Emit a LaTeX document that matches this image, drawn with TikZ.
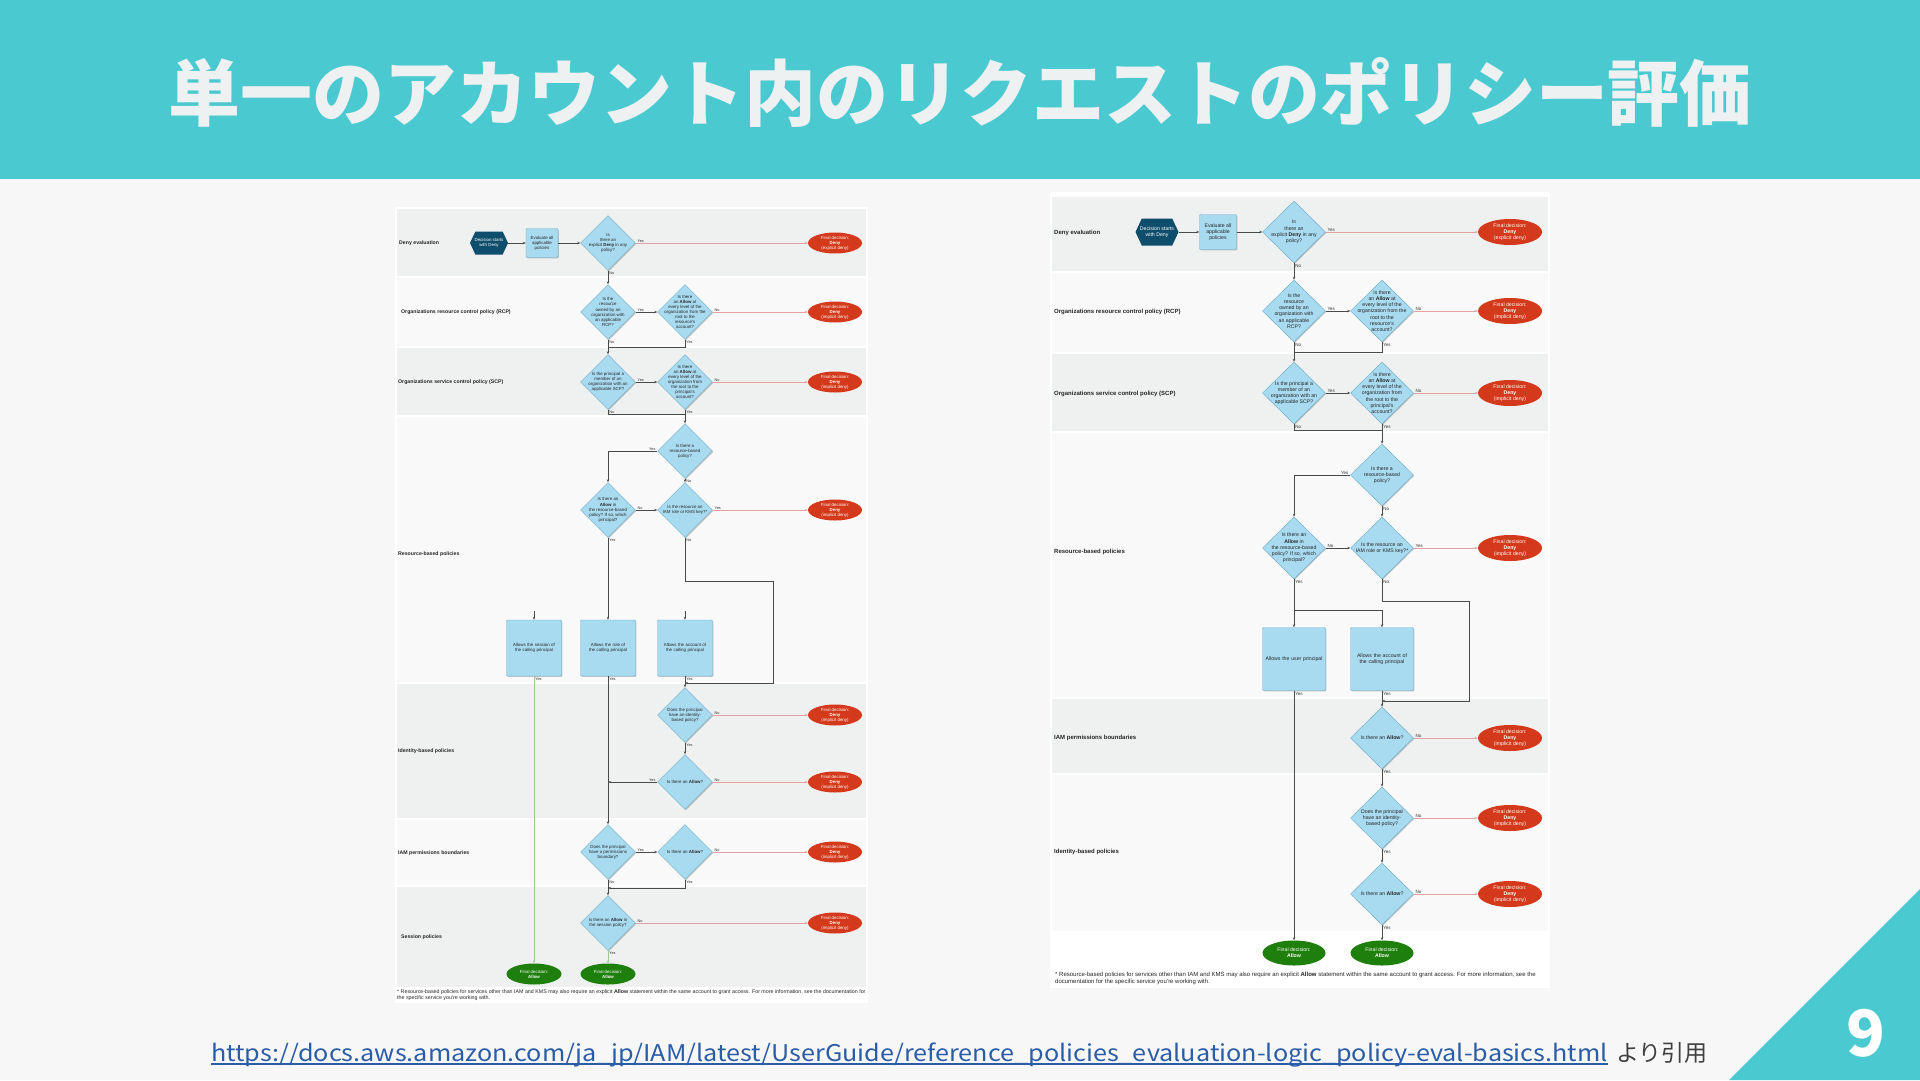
\documentclass[tikz,border=0pt]{standalone}
\usepackage{fontspec}
\setmainfont{Liberation Sans}
\newfontfamily\cjk{Noto Sans CJK JP}
\usetikzlibrary{shapes.geometric,shapes.symbols,arrows.meta,shadows}
\definecolor{hdrteal}{HTML}{4BC9D1}
\definecolor{pagebg}{HTML}{F7F7F7}
\definecolor{laneA}{HTML}{EFF0F0}
\definecolor{laneB}{HTML}{F9F9F9}
\definecolor{diafill}{HTML}{A8DBF0}
\definecolor{diaborder}{HTML}{6FAFCB}
\definecolor{denyred}{HTML}{D3391A}
\definecolor{allowgreen}{HTML}{1E7F0C}
\definecolor{navy}{HTML}{0E4D6B}
\definecolor{flowgrey}{HTML}{4A4A4A}
\definecolor{denyline}{HTML}{E3A2A2}
\definecolor{allowline}{HTML}{9BCB8F}
\definecolor{linkblue}{HTML}{2A5CA8}
\definecolor{titlecol}{HTML}{EEF1F1}
\tikzset{
 shd/.style={drop shadow={opacity=0.22, shadow xshift=0.8pt, shadow yshift=-0.8pt, fill=black}},
 diabase/.style={diamond, draw=diaborder, fill=diafill, line width=0.45pt, inner sep=0pt, shd},
 diaL/.style={diabase, minimum width=55pt, minimum height=55pt},
 diaR/.style={diabase, minimum width=63pt, minimum height=62pt},
 boxbase/.style={rectangle, rounded corners=1pt, draw=diaborder, fill=diafill, line width=0.45pt, inner sep=0pt, shd},
 boxL/.style={boxbase, minimum width=55pt, minimum height=56pt},
 boxR/.style={boxbase, minimum width=63pt, minimum height=63pt},
 evL/.style={boxbase, minimum width=32pt, minimum height=29pt},
 evR/.style={boxbase, minimum width=37pt, minimum height=35pt},
 ovbase/.style={ellipse, inner sep=0pt, draw=none},
 denyL/.style={ovbase, fill=denyred, minimum width=54pt, minimum height=21pt},
 denyR/.style={ovbase, fill=denyred, minimum width=64pt, minimum height=26pt},
 allowL/.style={ovbase, fill=allowgreen, minimum width=55pt, minimum height=21pt},
 allowR/.style={ovbase, fill=allowgreen, minimum width=63pt, minimum height=25pt},
 hexbase/.style={signal, signal to=east and west, signal pointer angle=130, fill=navy, inner sep=0pt, draw=none},
 hexL/.style={hexbase, minimum width=38pt, minimum height=23pt},
 hexR/.style={hexbase, minimum width=43pt, minimum height=27pt},
 tL/.style={align=center, inner sep=0pt, text=black!85, font=\fontsize{4.4}{5.1}\selectfont},
 tR/.style={align=center, inner sep=0pt, text=black!85, font=\fontsize{5.2}{6.2}\selectfont},
 wL/.style={tL, text=white},
 wR/.style={tR, text=white},
 laneL/.style={anchor=west, inner sep=0pt, font=\bfseries\fontsize{5.2}{6}\selectfont, text=black!85},
 laneR/.style={anchor=west, inner sep=0pt, font=\bfseries\fontsize{6}{7}\selectfont, text=black!85},
 arrowtip/.style={-{Stealth[length=3pt,width=2.4pt]}},
 flow/.style={draw=flowgrey, line width=0.55pt, arrowtip},
 seg/.style={draw=flowgrey, line width=0.55pt},
 dflow/.style={draw=denyline, line width=0.5pt, arrowtip},
 aflow/.style={draw=allowline, line width=0.5pt, arrowtip},
 ynL/.style={inner sep=0.6pt, font=\fontsize{3.8}{3.8}\selectfont, text=black!80},
 ynR/.style={inner sep=0.6pt, font=\fontsize{4.5}{4.5}\selectfont, text=black!80},
 yE/.style={pos=0, anchor=south west, xshift=1pt},
 yS/.style={pos=0, anchor=north west, xshift=0.5pt, yshift=-0.5pt},
 yW/.style={pos=0, anchor=south east, xshift=-1pt},
 fn/.style={anchor=west, inner sep=0pt, text=black!85},
}
\begin{document}
\begin{tikzpicture}[x=1pt,y=-1pt]
\useasboundingbox (0,0) rectangle (1920,1080);
\fill[pagebg] (0,0) rectangle (1920,1080);
\fill[hdrteal] (0,0) rectangle (1920,179);
\node[font=\cjk\bfseries\fontsize{72}{78}\selectfont, text=titlecol, inner sep=0pt] (title) at (960,92) {単一のアカウント内のリクエストのポリシー評価};
\fill[hdrteal] (1729,1080) -- (1920,889) -- (1920,1080) -- cycle;
\node[font=\cjk\bfseries\fontsize{64}{64}\selectfont, text=white, inner sep=0pt] (pnum) at (1866,1033) {9};
\node[font=\cjk\fontsize{23}{25}\selectfont, text=linkblue, anchor=base west, inner sep=0pt] (link) at (211,1061) {\scalebox{1.095}[1]{https://docs.aws.amazon.com/ja\_jp/IAM/latest/UserGuide/reference\_policies\_evaluation-logic\_policy-eval-basics.html}};
\draw[linkblue, line width=1.3pt] ([yshift=-3pt]link.base west) -- ([yshift=-3pt]link.base east);
\node[font=\cjk\fontsize{23}{25}\selectfont, text=black!75, anchor=base west, inner sep=0pt] (cite) at ([xshift=8pt]link.base east) {より引用};

% ================= LEFT DIAGRAM =================
\fill[white] (395,207) rectangle (868,1003);
\fill[laneA] (397,209) rectangle (866,276);
\fill[laneB] (397,278) rectangle (866,346);
\fill[laneA] (397,348) rectangle (866,415);
\fill[laneB] (397,417) rectangle (866,682);
\fill[laneA] (397,684) rectangle (866,818);
\fill[laneB] (397,820) rectangle (866,885);
\fill[laneA] (397,887) rectangle (866,987);
\node[laneL] (Ll1) at (399,243) {Deny evaluation};
\node[laneL] (Ll2) at (401,312) {Organizations resource control policy (RCP)};
\node[laneL] (Ll3) at (398,382) {Organizations service control policy (SCP)};
\node[laneL] (Ll4) at (398,554) {Resource-based policies};
\node[laneL] (Ll5) at (398,751) {Identity-based policies};
\node[laneL] (Ll6) at (398,853) {IAM permissions boundaries};
\node[laneL] (Ll7) at (401,937) {Session policies};

\node[hexL] (Lhex) at (489,243) {}; \node[wL] (Lhext) at (Lhex) {Decision starts\\with Deny};
\node[evL] (Lev) at (542,243) {}; \node[tL] (Levt) at (Lev) {Evaluate all\\applicable\\policies};
\node[diaL] (LD1) at (608,243) {}; \node[tL] (LD1t) at (LD1) {Is\\there an\\explicit \textbf{Deny} in any\\policy?};
\node[denyL] (LO1) at (835,243) {}; \node[wL] (LO1t) at (LO1) {Final decision:\\\textbf{Deny}\\(explicit deny)};
\node[diaL] (LD2) at (608,312) {}; \node[tL] (LD2t) at (LD2) {Is the\\resource\\owned by an\\organization with\\an applicable\\RCP?};
\node[diaL] (LD3) at (685,312) {}; \node[tL] (LD3t) at (LD3) {Is there\\an \textbf{Allow} at\\every level of the\\organization from the\\root to the\\resource's\\account?};
\node[denyL] (LO2) at (835,312) {}; \node[wL] (LO2t) at (LO2) {Final decision:\\\textbf{Deny}\\(implicit deny)};
\node[diaL] (LD4) at (608,382) {}; \node[tL] (LD4t) at (LD4) {Is the principal a\\member of an\\organization with an\\applicable SCP?};
\node[diaL] (LD5) at (685,382) {}; \node[tL] (LD5t) at (LD5) {Is there\\an \textbf{Allow} at\\every level of the\\organization from\\the root to the\\principal's\\account?};
\node[denyL] (LO3) at (835,382) {}; \node[wL] (LO3t) at (LO3) {Final decision:\\\textbf{Deny}\\(implicit deny)};
\node[diaL] (LD6) at (685,451) {}; \node[tL] (LD6t) at (LD6) {Is there a\\resource-based\\policy?};
\node[diaL] (LD7) at (608,510) {}; \node[tL] (LD7t) at (LD7) {Is there an\\\textbf{Allow} in\\the resource-based\\policy? If so, which\\principal?};
\node[diaL] (LD8) at (685,510) {}; \node[tL] (LD8t) at (LD8) {Is the resource an\\IAM role or KMS key?*};
\node[denyL] (LO4) at (835,510) {}; \node[wL] (LO4t) at (LO4) {Final decision:\\\textbf{Deny}\\(implicit deny)};
\node[boxL] (LB1) at (534,648) {}; \node[tL, text width=51pt] (LB1t) at (LB1) {Allows the session of the calling principal};
\node[boxL] (LB2) at (608,648) {}; \node[tL, text width=51pt] (LB2t) at (LB2) {Allows the role of the calling principal};
\node[boxL] (LB3) at (685,648) {}; \node[tL, text width=51pt] (LB3t) at (LB3) {Allows the account of the calling principal};
\node[diaL] (LD9) at (685,715) {}; \node[tL] (LD9t) at (LD9) {Does the principal\\have an identity-\\based policy?};
\node[denyL] (LO5) at (835,715) {}; \node[wL] (LO5t) at (LO5) {Final decision:\\\textbf{Deny}\\(implicit deny)};
\node[diaL] (LD10) at (685,782) {}; \node[tL] (LD10t) at (LD10) {Is there an \textbf{Allow}?};
\node[denyL] (LO6) at (835,782) {}; \node[wL] (LO6t) at (LO6) {Final decision:\\\textbf{Deny}\\(implicit deny)};
\node[diaL] (LD11) at (608,852) {}; \node[tL] (LD11t) at (LD11) {Does the principal\\have a permissions\\boundary?};
\node[diaL] (LD12) at (685,852) {}; \node[tL] (LD12t) at (LD12) {Is there an \textbf{Allow}?};
\node[denyL] (LO7) at (835,852) {}; \node[wL] (LO7t) at (LO7) {Final decision:\\\textbf{Deny}\\(implicit deny)};
\node[diaL] (LD13) at (608,923) {}; \node[tL] (LD13t) at (LD13) {Is there an \textbf{Allow} in\\the session policy?};
\node[denyL] (LO8) at (835,923) {}; \node[wL] (LO8t) at (LO8) {Final decision:\\\textbf{Deny}\\(implicit deny)};
\node[allowL] (LA1) at (534,974) {}; \node[wL] (LA1t) at (LA1) {Final decision:\\\textbf{Allow}};
\node[allowL] (LA2) at (608,974) {}; \node[wL] (LA2t) at (LA2) {Final decision:\\\textbf{Allow}};

\coordinate (LJ1) at (608,347);
\coordinate (LJ2) at (685,414);
\coordinate (LK1) at (773,581);
\coordinate (LK2) at (685,683);
\coordinate (LS1) at (534,611);
\coordinate (LS3) at (685,611);
\coordinate (LJ3) at (608,888);
\draw[flow] (Lhex) -- (Lev);
\draw[flow] (Lev) -- (LD1);
\draw[dflow] (LD1.east) -- (LO1.west) node[ynL,yE] (Ln1) {Yes};
\draw[flow] (LD1.south) -- (LD2.north) node[ynL,yS] (Ln2) {No};
\draw[flow] (LD2.east) -- (LD3.west) node[ynL,yE] (Ln3) {Yes};
\draw[dflow] (LD3.east) -- (LO2.west) node[ynL,yE] (Ln4) {No};
\draw[seg] (LD3.south) node[ynL,anchor=north west,xshift=0.5pt] (Ln5) {Yes} |- (LJ1);
\draw[flow] (LD2.south) -- (LD4.north) node[ynL,yS] (Ln6) {No};
\draw[flow] (LD4.east) -- (LD5.west) node[ynL,yE] (Ln7) {Yes};
\draw[dflow] (LD5.east) -- (LO3.west) node[ynL,yE] (Ln8) {No};
\draw[seg] (LD4.south) node[ynL,anchor=north west,xshift=0.5pt] (Ln9) {No} |- (LJ2);
\draw[flow] (LD5.south) -- (LD6.north) node[ynL,yS] (Ln10) {Yes};
\draw[flow] (LD6.west) -| (LD7.north) node[ynL,yW] (Ln11) {Yes};
\draw[flow] (LD6.south) -- (LD8.north) node[ynL,yS] (Ln12) {No};
\draw[flow] (LD7.east) -- (LD8.west) node[ynL,yE] (Ln13) {No};
\draw[dflow] (LD8.east) -- (LO4.west) node[ynL,yE] (Ln14) {Yes};
\draw[flow] (LD8.south) node[ynL,anchor=north west,xshift=0.5pt] (Ln15) {No} |- (LK1) |- (LK2);
\draw[flow] (LD7.south) -- (LB2.north) node[ynL,yS] (Ln16) {Yes};
\draw[flow] (LS1) -- (LB1.north);
\draw[flow] (LS3) -- (LB3.north);
\draw[aflow] (LB1.south) -- (LA1.north) node[ynL,yS] (Ln17) {Yes};
\draw[flow] (LB2.south) -- (LD11.north) node[ynL,yS] (Ln18) {Yes};
\draw[flow] (LB3.south) -- (LD9.north) node[ynL,yS] (Ln19) {Yes};
\draw[dflow] (LD9.east) -- (LO5.west) node[ynL,yE] (Ln20) {No};
\draw[flow] (LD9.south) -- (LD10.north) node[ynL,yS] (Ln21) {Yes};
\draw[dflow] (LD10.east) -- (LO6.west) node[ynL,yE] (Ln22) {No};
\draw[flow] (LD10.west) -- (LD10.west -| LB2.south) node[ynL,yW] (Ln23) {Yes};
\draw[flow] (LD11.east) -- (LD12.west) node[ynL,yE] (Ln24) {Yes};
\draw[dflow] (LD12.east) -- (LO7.west) node[ynL,yE] (Ln25) {No};
\draw[flow] (LD12.south) |- (LJ3) node[ynL,yS] (Ln26) {Yes};
\draw[flow] (LD11.south) -- (LD13.north) node[ynL,yS] (Ln27) {No};
\draw[dflow] (LD13.east) -- (LO8.west) node[ynL,yE] (Ln28) {No};
\draw[aflow] (LD13.south) -- (LA2.north) node[ynL,yS] (Ln29) {Yes};
\node[fn, font=\fontsize{5.3}{6}\selectfont] (Lfn1) at (397,992) {* Resource-based policies for services other than IAM and KMS may also require an explicit \textbf{Allow} statement within the same account to grant access. For more information, see the documentation for};
\node[fn, font=\fontsize{5.3}{6}\selectfont] (Lfn2) at (397,998) {the specific service you're working with.};

% ================= RIGHT DIAGRAM =================
\fill[white] (1050,192) rectangle (1550,988);
\fill[laneA] (1052,197) rectangle (1548,271);
\fill[laneB] (1052,273) rectangle (1548,352);
\fill[laneA] (1052,354) rectangle (1548,431);
\fill[laneB] (1052,433) rectangle (1548,697);
\fill[laneA] (1052,699) rectangle (1548,773);
\fill[laneB] (1052,775) rectangle (1548,931);
\node[laneR] (Rl1) at (1054,233) {Deny evaluation};
\node[laneR] (Rl2) at (1054,312) {Organizations resource control policy (RCP)};
\node[laneR] (Rl3) at (1054,394) {Organizations service control policy (SCP)};
\node[laneR] (Rl4) at (1054,552) {Resource-based policies};
\node[laneR] (Rl5) at (1054,738) {IAM permissions boundaries};
\node[laneR] (Rl6) at (1054,852) {Identity-based policies};

\node[hexR] (Rhex) at (1157,232) {}; \node[wR] (Rhext) at (Rhex) {Decision starts\\with Deny};
\node[evR] (Rev) at (1218,232) {}; \node[tR] (Revt) at (Rev) {Evaluate all\\applicable\\policies};
\node[diaR] (RD1) at (1294,232) {}; \node[tR] (RD1t) at (RD1) {Is\\there an\\explicit \textbf{Deny} in any\\policy?};
\node[denyR] (RO1) at (1510,232) {}; \node[wR] (RO1t) at (RO1) {Final decision:\\\textbf{Deny}\\(explicit deny)};
\node[diaR] (RD2) at (1294,311) {}; \node[tR] (RD2t) at (RD2) {Is the\\resource\\owned by an\\organization with\\an applicable\\RCP?};
\node[diaR] (RD3) at (1382,311) {}; \node[tR] (RD3t) at (RD3) {Is there\\an \textbf{Allow} at\\every level of the\\organization from the\\root to the\\resource's\\account?};
\node[denyR] (RO2) at (1510,311) {}; \node[wR] (RO2t) at (RO2) {Final decision:\\\textbf{Deny}\\(implicit deny)};
\node[diaR] (RD4) at (1294,393) {}; \node[tR] (RD4t) at (RD4) {Is the principal a\\member of an\\organization with an\\applicable SCP?};
\node[diaR] (RD5) at (1382,393) {}; \node[tR] (RD5t) at (RD5) {Is there\\an \textbf{Allow} at\\every level of the\\organization from\\the root to the\\principal's\\account?};
\node[denyR] (RO3) at (1510,393) {}; \node[wR] (RO3t) at (RO3) {Final decision:\\\textbf{Deny}\\(implicit deny)};
\node[diaR] (RD6) at (1382,475) {}; \node[tR] (RD6t) at (RD6) {Is there a\\resource-based\\policy?};
\node[diaR] (RD7) at (1294,548) {}; \node[tR] (RD7t) at (RD7) {Is there an\\\textbf{Allow} in\\the resource-based\\policy? If so, which\\principal?};
\node[diaR] (RD8) at (1382,548) {}; \node[tR] (RD8t) at (RD8) {Is the resource an\\IAM role or KMS key?*};
\node[denyR] (RO4) at (1510,548) {}; \node[wR] (RO4t) at (RO4) {Final decision:\\\textbf{Deny}\\(implicit deny)};
\node[boxR] (RB1) at (1294,659) {}; \node[tR, text width=59pt] (RB1t) at (RB1) {Allows the user principal};
\node[boxR] (RB2) at (1382,659) {}; \node[tR, text width=59pt] (RB2t) at (RB2) {Allows the account of the calling principal};
\node[diaR] (RD9) at (1382,738) {}; \node[tR] (RD9t) at (RD9) {Is there an \textbf{Allow}?};
\node[denyR] (RO5) at (1510,738) {}; \node[wR] (RO5t) at (RO5) {Final decision:\\\textbf{Deny}\\(implicit deny)};
\node[diaR] (RD10) at (1382,818) {}; \node[tR] (RD10t) at (RD10) {Does the principal\\have an identity-\\based policy?};
\node[denyR] (RO6) at (1510,818) {}; \node[wR] (RO6t) at (RO6) {Final decision:\\\textbf{Deny}\\(implicit deny)};
\node[diaR] (RD11) at (1382,894) {}; \node[tR] (RD11t) at (RD11) {Is there an \textbf{Allow}?};
\node[denyR] (RO7) at (1510,894) {}; \node[wR] (RO7t) at (RO7) {Final decision:\\\textbf{Deny}\\(implicit deny)};
\node[allowR] (RA1) at (1294,953) {}; \node[wR] (RA1t) at (RA1) {Final decision:\\\textbf{Allow}};
\node[allowR] (RA2) at (1382,953) {}; \node[wR] (RA2t) at (RA2) {Final decision:\\\textbf{Allow}};

\coordinate (RJ1) at (1294,352);
\coordinate (RJ2) at (1382,430);
\coordinate (RJ3) at (1294,610);
\coordinate (RK1) at (1469,601);
\coordinate (RK2) at (1382,701);
\draw[flow] (Rhex) -- (Rev);
\draw[flow] (Rev) -- (RD1);
\draw[dflow] (RD1.east) -- (RO1.west) node[ynR,yE] (Rn1) {Yes};
\draw[flow] (RD1.south) -- (RD2.north) node[ynR,yS] (Rn2) {No};
\draw[flow] (RD2.east) -- (RD3.west) node[ynR,yE] (Rn3) {Yes};
\draw[dflow] (RD3.east) -- (RO2.west) node[ynR,yE] (Rn4) {No};
\draw[seg] (RD3.south) node[ynR,anchor=north west,xshift=0.5pt] (Rn5) {Yes} |- (RJ1);
\draw[flow] (RD2.south) -- (RD4.north) node[ynR,yS] (Rn6) {No};
\draw[flow] (RD4.east) -- (RD5.west) node[ynR,yE] (Rn7) {Yes};
\draw[dflow] (RD5.east) -- (RO3.west) node[ynR,yE] (Rn8) {No};
\draw[seg] (RD4.south) node[ynR,anchor=north west,xshift=0.5pt] (Rn9) {No} |- (RJ2);
\draw[flow] (RD5.south) -- (RD6.north) node[ynR,yS] (Rn10) {Yes};
\draw[flow] (RD6.west) -| (RD7.north) node[ynR,yW] (Rn11) {Yes};
\draw[flow] (RD6.south) -- (RD8.north) node[ynR,yS] (Rn12) {No};
\draw[flow] (RD7.east) -- (RD8.west) node[ynR,yE] (Rn13) {No};
\draw[dflow] (RD8.east) -- (RO4.west) node[ynR,yE] (Rn14) {Yes};
\draw[flow] (RD7.south) -- (RB1.north) node[ynR,yS] (Rn15) {Yes};
\draw[flow] (RJ3) -| (RB2.north);
\draw[flow] (RD8.south) node[ynR,anchor=north west,xshift=0.5pt] (Rn16) {No} |- (RK1) |- (RK2);
\draw[flow] (RB1.south) -- (RA1.north) node[ynR,yS] (Rn17) {Yes};
\draw[flow] (RB2.south) -- (RD9.north) node[ynR,yS] (Rn18) {Yes};
\draw[dflow] (RD9.east) -- (RO5.west) node[ynR,yE] (Rn19) {No};
\draw[flow] (RD9.south) -- (RD10.north) node[ynR,yS] (Rn20) {Yes};
\draw[dflow] (RD10.east) -- (RO6.west) node[ynR,yE] (Rn21) {No};
\draw[flow] (RD10.south) -- (RD11.north) node[ynR,yS] (Rn22) {Yes};
\draw[dflow] (RD11.east) -- (RO7.west) node[ynR,yE] (Rn23) {No};
\draw[flow] (RD11.south) -- (RA2.north) node[ynR,yS] (Rn24) {Yes};
\node[fn, font=\fontsize{6}{7}\selectfont] (Rfn1) at (1055,975) {* Resource-based policies for services other than IAM and KMS may also require an explicit \textbf{Allow} statement within the same account to grant access. For more information, see the};
\node[fn, font=\fontsize{6}{7}\selectfont] (Rfn2) at (1055,982) {documentation for the specific service you're working with.};
\end{tikzpicture}
\end{document}
